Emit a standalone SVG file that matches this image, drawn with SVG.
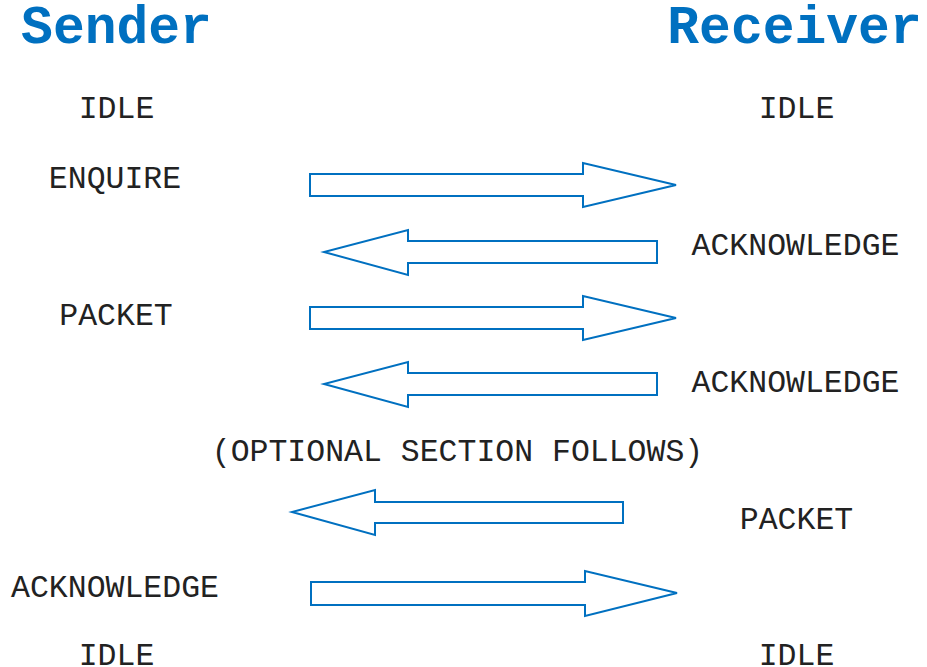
<svg xmlns="http://www.w3.org/2000/svg" width="927" height="667" viewBox="0 0 927 667">
<style>
.h{font-family:"Liberation Mono","Courier New",monospace;font-weight:bold;font-size:53px;fill:#0070C0;text-anchor:middle}
.t{font-family:"Liberation Mono","Courier New",monospace;font-size:31.5px;fill:#222;text-anchor:middle}
.a{fill:#fff;stroke:#0070C0;stroke-width:2}
</style>
<rect width="927" height="667" fill="#fff"/>
<g id="sender"><text class="h" x="116.5" y="43">Sender</text></g>
<g id="receiver"><text class="h" x="794.5" y="43">Receiver</text></g>
<g id="s-idle1"><text class="t" x="116.5" y="118">IDLE</text></g>
<g id="r-idle1"><text class="t" x="796.5" y="118">IDLE</text></g>
<g id="s-enquire"><text class="t" x="115" y="188">ENQUIRE</text></g>
<g id="r-ack1"><text class="t" x="795.5" y="255">ACKNOWLEDGE</text></g>
<g id="s-packet"><text class="t" x="116" y="325">PACKET</text></g>
<g id="r-ack2"><text class="t" x="795.5" y="392">ACKNOWLEDGE</text></g>
<g id="optional"><text class="t" x="457.5" y="461">(OPTIONAL SECTION FOLLOWS)</text></g>
<g id="r-packet"><text class="t" x="796.5" y="529">PACKET</text></g>
<g id="s-ack"><text class="t" x="115" y="597">ACKNOWLEDGE</text></g>
<g id="s-idle2"><text class="t" x="116.5" y="665">IDLE</text></g>
<g id="r-idle2"><text class="t" x="796.5" y="665">IDLE</text></g>
<g id="connectors">
<polygon class="a" points="310,174 583,174 583,163 676,185 583,207 583,196 310,196"/>
<polygon class="a" points="657,241 408,241 408,230 324,252 408,275 408,263 657,263"/>
<polygon class="a" points="310,307 583,307 583,296 676,318 583,340 583,329 310,329"/>
<polygon class="a" points="657,373 408,373 408,362 324,384 408,407 408,395 657,395"/>
<polygon class="a" points="623,502 375,502 375,490 292,512 375,535 375,523 623,523"/>
<polygon class="a" points="311,582 585,582 585,571 677,593 585,616 585,605 311,605"/>
</g>
</svg>
